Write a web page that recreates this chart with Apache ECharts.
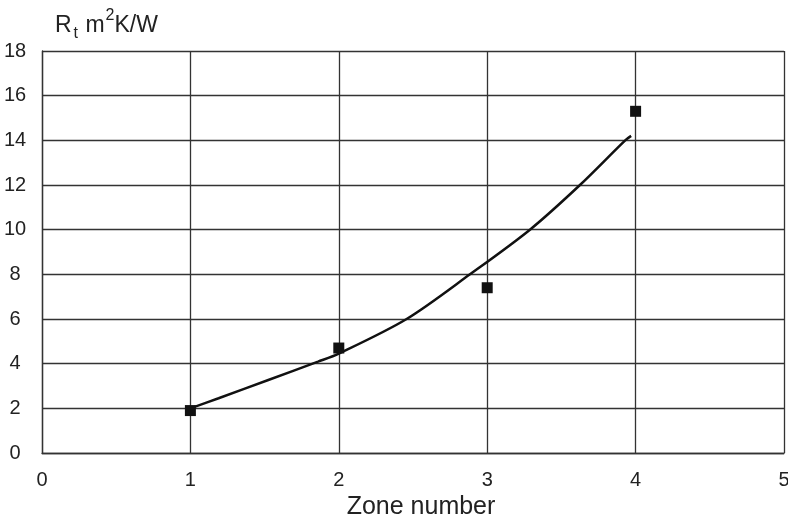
<!DOCTYPE html>
<html><head><meta charset="utf-8">
<script src="https://cdn.jsdelivr.net/npm/echarts@6/dist/echarts.min.js"></script>
<style>html,body{margin:0;padding:0;background:#fff}#c{width:788px;height:518px}</style>
</head><body><div id="c"></div>
<script>
var measured = [[1, 1.9], [2, 4.7], [3, 7.4], [4, 15.3]];
var fitCurve = [[1, 2.0], [1.19, 2.45], [1.525, 3.27], [1.86, 4.09], [2.0, 4.45], [2.457, 6.0], [2.884, 8.0], [3.288, 10.0], [3.625, 12.0], [3.93, 14.0], [3.97, 14.2]];
var xTicks = [0, 1, 2, 3, 4, 5];
var yTicks = [0, 2, 4, 6, 8, 10, 12, 14, 16, 18];

var chart = echarts.init(document.getElementById('c'));
var font = 'Liberation Sans, Arial, sans-serif';
chart.setOption({
  animation: false,
  backgroundColor: '#fff',
  grid: {left: 42, right: 4, top: 51, bottom: 65, outerBoundsMode: 'none', containLabel: false},
  title: {
    text: '{a|R}{s|t}{a| m}{p|2}{a|K/W}',
    left: 50, top: 0,
    textStyle: {
      fontWeight: 'normal',
      rich: {
        a: {fontSize: 23, fontFamily: font, color: '#222', fontWeight: 'normal', lineHeight: 32, verticalAlign: 'bottom', padding: [0, 1, 0, 0]},
        s: {fontSize: 16, fontFamily: font, color: '#222', fontWeight: 'normal', lineHeight: 32, verticalAlign: 'bottom', padding: [0, 1, -5, 1]},
        p: {fontSize: 16, fontFamily: font, color: '#222', fontWeight: 'normal', lineHeight: 32, verticalAlign: 'top', padding: [3, 0, 0, 0]}
      }
    }
  },
  xAxis: {
    type: 'value', min: xTicks[0], max: xTicks[xTicks.length - 1], interval: 1,
    name: 'Zone number', nameLocation: 'middle', nameGap: 42,
    nameTextStyle: {fontSize: 25, fontFamily: font, color: '#222', padding: [0, 0, 0, 16]},
    axisLine: {show: true, lineStyle: {color: '#333', width: 1.3}},
    axisTick: {show: false},
    axisLabel: {fontSize: 20, fontFamily: font, color: '#222', margin: 17},
    splitLine: {show: true, lineStyle: {color: '#333', width: 1.3}}
  },
  yAxis: {
    type: 'value', min: yTicks[0], max: yTicks[yTicks.length - 1], interval: 2,
    axisLine: {show: true, lineStyle: {color: '#333', width: 1.3}},
    axisTick: {show: false},
    axisLabel: {fontSize: 20, fontFamily: font, color: '#222', margin: 27, align: 'center'},
    splitLine: {show: true, lineStyle: {color: '#333', width: 1.3}}
  },
  series: [
    {
      type: 'line', data: fitCurve, smooth: 0.3, showSymbol: false, symbol: 'none',
      lineStyle: {color: '#111', width: 2.5}, z: 3
    },
    {
      type: 'scatter', data: measured, symbol: 'rect', symbolSize: 11,
      itemStyle: {color: '#111', opacity: 1}, z: 4
    }
  ]
});
</script>
</body></html>
